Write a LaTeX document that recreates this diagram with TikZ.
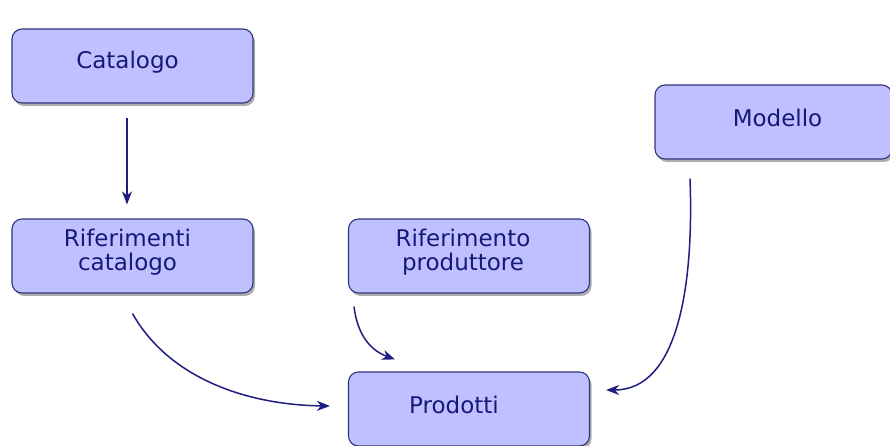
\documentclass[tikz,border=0pt]{standalone}
\usepackage{fontspec}
\setmainfont{DejaVu Sans}
\usetikzlibrary{arrows.meta,shadows}
\definecolor{boxfill}{HTML}{BFC0FF}
\definecolor{boxline}{HTML}{34347C}
\definecolor{txt}{HTML}{18187A}
\definecolor{arr}{HTML}{1E1E80}
\begin{document}
\begin{tikzpicture}[x=1pt,y=1pt,
  box/.style={draw=boxline, line width=1.1pt, fill=boxfill, rounded corners=10pt,
    minimum width=241pt, minimum height=74pt,
    drop shadow={shadow xshift=2pt, shadow yshift=-3pt, opacity=0.45, fill=black!70}},
  lbl/.style={text=txt, align=center, font=\fontsize{23}{24}\selectfont, inner sep=0pt},
  conn/.style={draw=arr, line width=1.5pt, -{Stealth[length=13pt,width=10pt,inset=4pt]}}]
\useasboundingbox (0,0) rectangle (890,446);
\node[box] (cat) at (132.5,380) {};
\node[box] (rc) at (132.5,190) {};
\node[box] (rp) at (469,190) {};
\node[box] (prod) at (469,37) {};
\node[box, minimum width=237pt] (mod) at (773.5,324) {};
\node[lbl] (catt) at ([xshift=-5pt,yshift=4pt]cat.center) {Catalogo};
\node[lbl] (rct) at ([xshift=-5pt,yshift=4pt]rc.center) {Riferimenti\\catalogo};
\node[lbl] (rpt) at ([xshift=-6pt,yshift=4pt]rp.center) {Riferimento\\produttore};
\node[lbl] (prodt) at ([xshift=-15pt,yshift=4pt]prod.center) {Prodotti};
\node[lbl] (modt) at ([xshift=4pt,yshift=4pt]mod.center) {Modello};
\draw[conn] ([xshift=-5.5pt,yshift=-14pt]cat.south) -- ([xshift=-5.5pt,yshift=14pt]rc.north);
\draw[conn] ([yshift=-20pt]rc.south) .. controls (170,66) and (250,41) .. ([xshift=-18pt,yshift=3pt]prod.west);
\draw[conn] ([xshift=-115pt,yshift=-13pt]rp.south) .. controls (358,106) and (375,94) .. ([xshift=-74pt,yshift=12pt]prod.north);
\draw[conn] ([xshift=-83.5pt,yshift=-19pt]mod.south) .. controls (694,160) and (678,56) .. ([xshift=16pt,yshift=19pt]prod.east);
\end{tikzpicture}
\end{document}
